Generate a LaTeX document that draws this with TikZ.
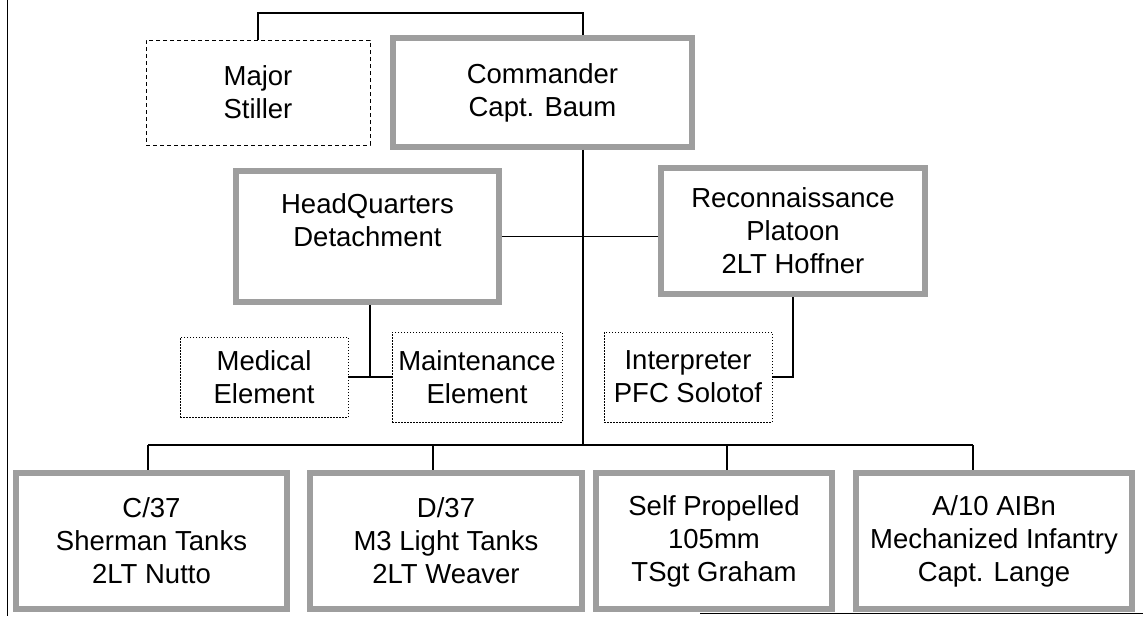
\documentclass[tikz,border=0pt]{standalone}
\usepackage{fontspec}
\setmainfont{Liberation Sans}
\begin{document}
\begin{tikzpicture}[x=1pt,y=-1pt,
  every node/.style={inner sep=0pt,align=center,font=\fontsize{27.5}{33}\selectfont},
  hatchbox/.style={draw=black!38,line width=5.5pt,rectangle},
  dashbox/.style={draw,line width=1pt,dashed,dash pattern=on 4pt off 3pt,rectangle},
  dotbox/.style={draw,line width=0.9pt,dash pattern=on 1.5pt off 1.5pt,rectangle},
  conn/.style={draw,line width=1.2pt}]
\useasboundingbox (0,0) rectangle (1143,616);
\fill[white] (0,0) rectangle (1143,616);
% page edge lines
\draw[line width=1pt] (7,0) -- (7,616);
\draw[line width=1pt] (700,613) -- (1143,613);

\node[dashbox,minimum width=224pt,minimum height=105pt] (major) at (258,92.5) {Major\\Stiller};
\node[hatchbox,minimum width=299pt,minimum height=109pt] (cmd) at (542.5,92.5) {Commander\\Capt. Baum};
\node[hatchbox,minimum width=263pt,minimum height=131pt] (hq) at (367.5,236.5) {HeadQuarters\\Detachment\\\mbox{}};
\node[hatchbox,minimum width=264pt,minimum height=126pt] (recon) at (793,231) {Reconnaissance\\Platoon\\2LT Hoffner};
\node[dotbox,minimum width=168pt,minimum height=80pt] (med) at (264,377) {Medical\\Element};
\node[dotbox,minimum width=170pt,minimum height=90pt] (maint) at (477,377) {Maintenance\\Element};
\node[dotbox,minimum width=168pt,minimum height=90pt] (interp) at (688,377) {Interpreter\\PFC Solotof};
\node[hatchbox,minimum width=271pt,minimum height=136pt] (c37) at (151.5,541) {C/37\\Sherman Tanks\\2LT Nutto};
\node[hatchbox,minimum width=272pt,minimum height=136pt] (d37) at (446,541) {D/37\\M3 Light Tanks\\2LT Weaver};
\node[hatchbox,minimum width=236pt,minimum height=136pt] (sp) at (714,541) {Self Propelled\\105mm\\TSgt Graham};
\node[hatchbox,minimum width=276pt,minimum height=136pt] (a10) at (994,541) {A/10 AIBn\\Mechanized Infantry\\Capt. Lange};

\coordinate (tb) at (583,13);
\coordinate (bus) at (583,445);
\coordinate (hqj) at (370,377);
\coordinate (b1) at (148,445);
\coordinate (b2) at (433,445);
\coordinate (b3) at (727,445);
\coordinate (b4) at (973,445);

\draw[conn] (major.north) |- (tb) -- (tb |- cmd.north);
\draw[conn] (tb |- cmd.south) -- (bus);
\draw[conn] (hq.east) -- (hq.east -| recon.west);
\draw[conn] (hq.south -| hqj) -- (hqj);
\draw[conn] (med.east) -- (maint.west);
\draw[conn] (recon.south) |- (interp.east);
\draw[conn] (b1) -- (b4);
\draw[conn] (b1) -- (b1 |- c37.north);
\draw[conn] (b2) -- (b2 |- d37.north);
\draw[conn] (b3) -- (b3 |- sp.north);
\draw[conn] (b4) -- (b4 |- a10.north);
\end{tikzpicture}
\end{document}
